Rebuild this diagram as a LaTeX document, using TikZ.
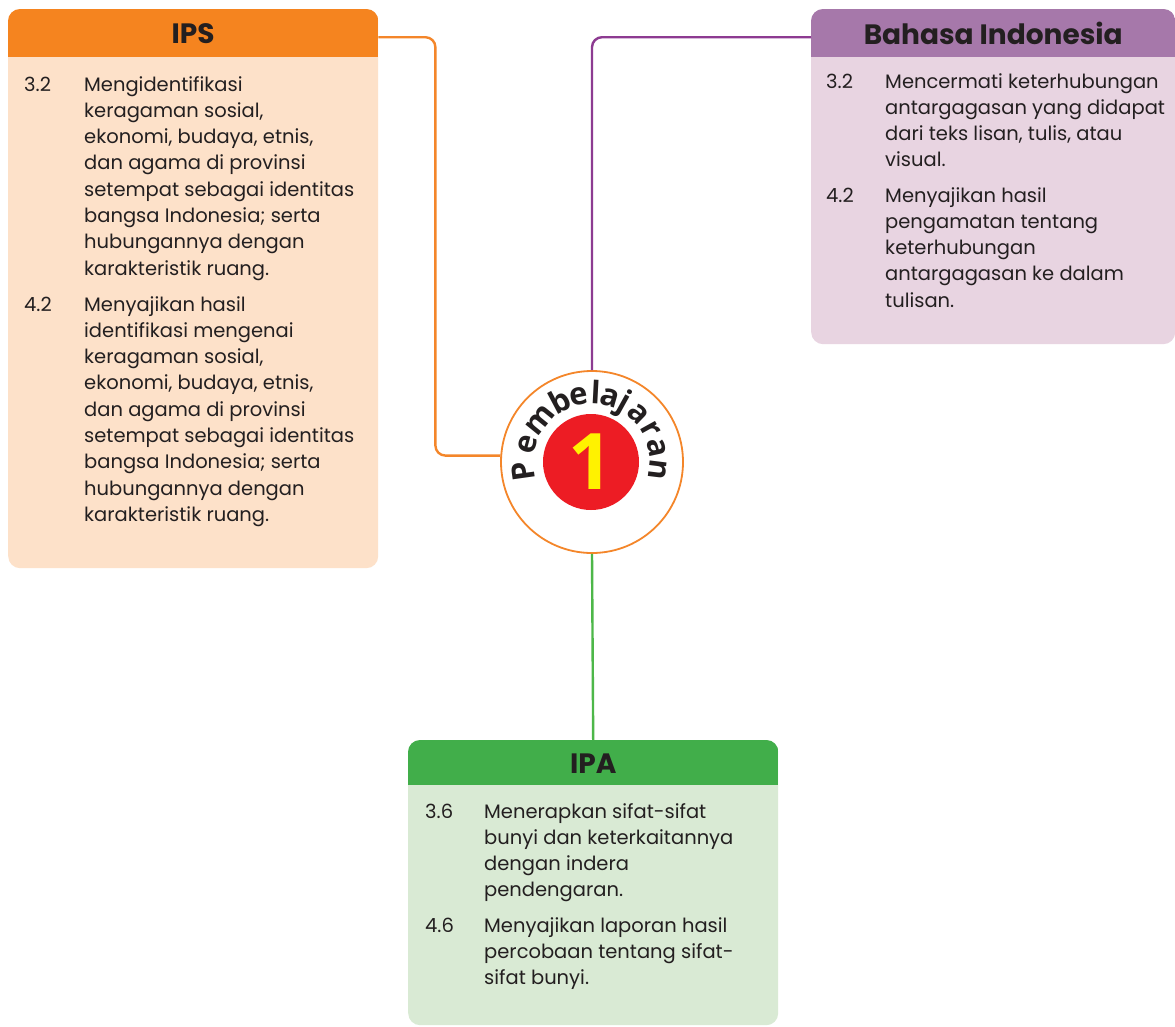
\documentclass[tikz,border=0pt]{standalone}
\usepackage{fontspec}
\setmainfont{Poppins}
\newfontfamily\circfont{Open Sans}
\definecolor{ipshd}{HTML}{F5841F}
\definecolor{ipsbd}{HTML}{FDE1C9}
\definecolor{bihd}{HTML}{A678AA}
\definecolor{bibd}{HTML}{E8D4E1}
\definecolor{ipahd}{HTML}{41AE4A}
\definecolor{ipabd}{HTML}{D9EAD4}
\definecolor{oline}{HTML}{F4862A}
\definecolor{pline}{HTML}{8D3B91}
\definecolor{gline}{HTML}{4DB749}
\definecolor{redc}{HTML}{ED1C24}
\definecolor{yelc}{HTML}{FFF200}
\definecolor{txt}{HTML}{231F20}
\tikzset{
  boxbody/.style={rounded corners=12pt, inner sep=0pt, anchor=north west},
  headtxt/.style={inner sep=0pt, anchor=north west, minimum height=48pt, text=txt,
    font=\fontsize{28}{28}\selectfont\bfseries},
  itemtxt/.style={inner sep=0pt, anchor=base west, text=txt,
    font=\fontsize{19.5}{26.3}\selectfont},
  arcletter/.style={inner sep=0pt, anchor=base, text=txt,
    font=\circfont\fontsize{31}{31}\selectfont\bfseries},
  conn/.style={line width=2.4pt, rounded corners=10pt},
}
\newcommand{\itm}[1]{\parbox[t]{320pt}{\raggedright #1}}
\begin{document}
\begin{tikzpicture}[x=1pt,y=-1pt]
\useasboundingbox[fill=white] (0,0) rectangle (1175,1026);

% ---------- IPS ----------
\node[boxbody, fill=ipsbd, minimum width=370pt, minimum height=559pt] (ips) at (8,9) {};
\begin{scope}
  \clip[rounded corners=12pt] (ips.north west) rectangle (ips.south east);
  \fill[ipshd] (ips.north west) rectangle ([yshift=-48pt]ips.north east);
\end{scope}
\node[headtxt, minimum width=370pt] (ipsh) at (8,9) {IPS};
\node[itemtxt] (ipsa) at (24,91) {3.2};
\node[itemtxt] (ipsat) at (84,91) {\itm{Mengidentifikasi\\keragaman sosial,\\ekonomi, budaya, etnis,\\dan agama di provinsi\\setempat sebagai identitas\\bangsa Indonesia; serta\\hubungannya dengan\\karakteristik ruang.}};
\node[itemtxt] (ipsb) at (24,311) {4.2};
\node[itemtxt] (ipsbt) at (84,311) {\itm{Menyajikan hasil\\identifikasi mengenai\\keragaman sosial,\\ekonomi, budaya, etnis,\\dan agama di provinsi\\setempat sebagai identitas\\bangsa Indonesia; serta\\hubungannya dengan\\karakteristik ruang.}};

% ---------- Bahasa Indonesia ----------
\node[boxbody, fill=bibd, minimum width=364pt, minimum height=335pt] (bi) at (811,9) {};
\begin{scope}
  \clip[rounded corners=12pt] (bi.north west) rectangle (bi.south east);
  \fill[bihd] (bi.north west) rectangle ([yshift=-48pt]bi.north east);
\end{scope}
\node[headtxt, minimum width=364pt] (bih) at (811,9) {Bahasa Indonesia};
\node[itemtxt] (bia) at (826,88) {3.2};
\node[itemtxt] (biat) at (885,88) {\itm{Mencermati keterhubungan\\antargagasan yang didapat\\dari teks lisan, tulis, atau\\visual.}};
\node[itemtxt] (bib) at (826,202) {4.2};
\node[itemtxt] (bibt) at (885,202) {\itm{Menyajikan hasil\\pengamatan tentang\\keterhubungan\\antargagasan ke dalam\\tulisan.}};

% ---------- IPA ----------
\node[boxbody, fill=ipabd, minimum width=370pt, minimum height=285pt] (ipa) at (408,740) {};
\begin{scope}
  \clip[rounded corners=12pt] (ipa.north west) rectangle (ipa.south east);
  \fill[ipahd] (ipa.north west) rectangle ([yshift=-45pt]ipa.north east);
\end{scope}
\node[headtxt, minimum width=370pt, minimum height=47pt] (ipah) at (408,740) {IPA};
\node[itemtxt] (ipaa) at (425,818) {3.6};
\node[itemtxt] (ipaat) at (484,818) {\itm{Menerapkan sifat-sifat\\bunyi dan keterkaitannya\\dengan indera\\pendengaran.}};
\node[itemtxt] (ipab) at (425,932) {4.6};
\node[itemtxt] (ipabt) at (484,932) {\itm{Menyajikan laporan hasil\\percobaan tentang sifat-\\sifat bunyi.}};

% ---------- centre ----------
\node[circle, draw=oline, line width=1.8pt, fill=white, minimum size=182pt, inner sep=0pt] (circ) at (592,462) {};
\node[circle, fill=redc, minimum size=96pt, inner sep=0pt, text=yelc,
      font=\circfont\fontsize{78}{78}\selectfont\bfseries] (one) at (591,462) {1};
\foreach \ch/\ang [count=\i, evaluate=\ang as \na using -1*(\ang)] in
   {P/188, e/165, m/141, b/118, e/101, l/87, a/74, j/61, a/46, r/29, a/12, n/-7}
  \node[arcletter, rotate=\ang-90] (arc\i) at ([shift={(\na:58)}]circ.center) {\ch};

% ---------- connectors ----------
\draw[conn, oline] ([yshift=-4pt]ipsh.east) -- ++(57,0) |- (circ.176);
\draw[conn, pline] ([yshift=-4pt]bih.west) -| (circ.north);
\draw[conn, gline, rounded corners=0pt] (circ.south) -- (ipah.north);
\end{tikzpicture}
\end{document}
